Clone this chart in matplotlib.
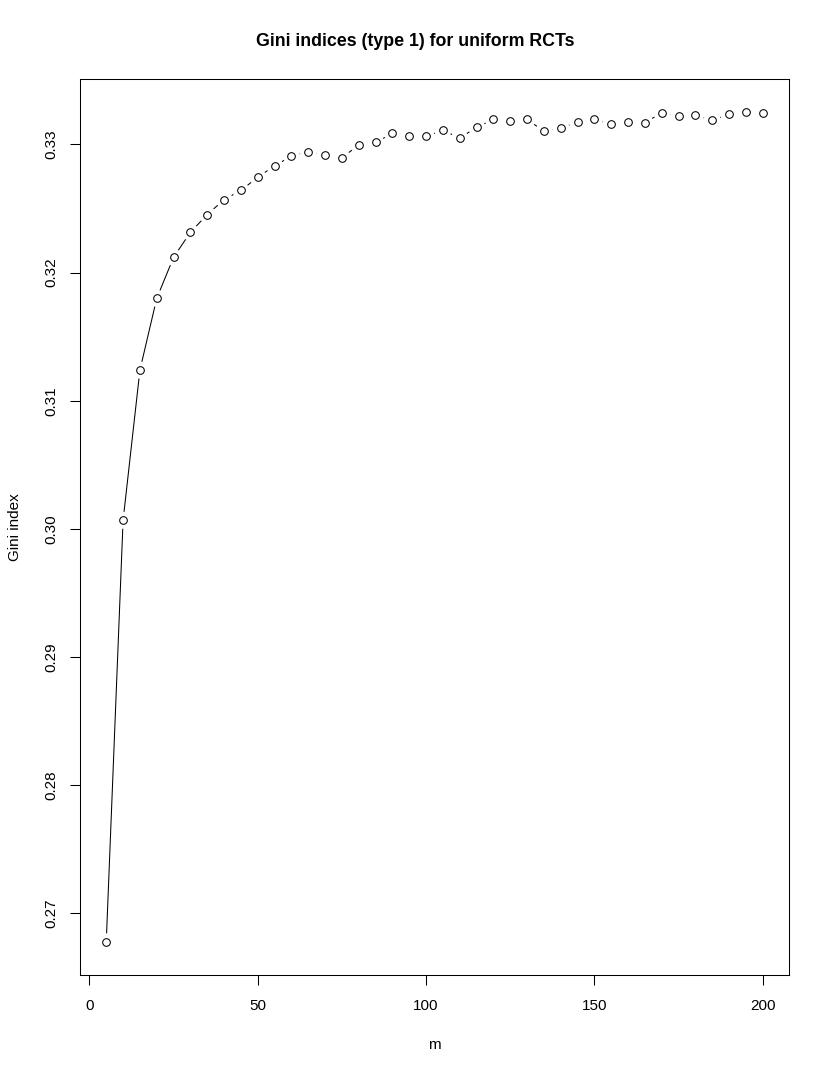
import numpy as np
import matplotlib.pyplot as plt

plt.rcParams['font.family'] = ['Liberation Sans', 'DejaVu Sans']

# --- DATA ---
m = list(range(5, 205, 5))
gini = [0.26779, 0.30068, 0.31240, 0.31800, 0.32120, 0.32315, 0.32453, 0.32570,
        0.32641, 0.32745, 0.32833, 0.32909, 0.32945, 0.32916, 0.32898, 0.32995,
        0.33016, 0.33086, 0.33065, 0.33063, 0.33112, 0.33049, 0.33135, 0.33195,
        0.33182, 0.33195, 0.33104, 0.33130, 0.33172, 0.33195, 0.33159, 0.33174,
        0.33169, 0.33248, 0.33221, 0.33227, 0.33190, 0.33234, 0.33252, 0.33248]
x_ticks = [0, 50, 100, 150, 200]
y_ticks = [0.27, 0.28, 0.29, 0.30, 0.31, 0.32, 0.33]

x = np.array(m, dtype=float)
y = np.array(gini)

# --- FIGURE (R base graphics look) ---
W, H = 830, 1075
fig = plt.figure(figsize=(W / 100, H / 100), dpi=100)
ax = fig.add_axes([80 / W, 1 - 975 / H, 709 / W, 896 / H])

# R-style 4% axis extension
def rlim(v):
    r = v.max() - v.min()
    return v.min() - 0.04 * r, v.max() + 0.04 * r

ax.set_xlim(*rlim(x))
ax.set_ylim(*rlim(y))

# type = "b": segments with gaps around the points
gap = 8.5  # pixels
pts = ax.transData.transform(np.column_stack([x, y]))
inv = ax.transData.inverted()
for p0, p1 in zip(pts[:-1], pts[1:]):
    d = p1 - p0
    L = np.hypot(*d)
    if L <= 2 * gap:
        continue
    u = d / L
    a = inv.transform(p0 + u * gap)
    b = inv.transform(p1 - u * gap)
    ax.plot([a[0], b[0]], [a[1], b[1]], color='black', lw=0.75,
            solid_capstyle='butt')

ax.plot(x, y, linestyle='none', marker='o', markersize=5.5,
        markerfacecolor='none', markeredgecolor='black', markeredgewidth=0.75)

# axes styling
for s in ax.spines.values():
    s.set_linewidth(0.75)
ax.set_xticks(x_ticks)
ax.set_yticks(y_ticks)
ax.set_yticklabels([f"{v:.2f}" for v in y_ticks], rotation=90, va='center')
ax.tick_params(direction='out', length=7.2, width=0.75, labelsize=11)
ax.tick_params(axis='x', pad=10)
ax.tick_params(axis='y', pad=8.2)

fig.text(0.5, 1 - 41 / H, "Gini indices (type 1) for uniform RCTs",
         ha='center', va='center', fontsize=12.8, fontweight='bold')
fig.text(434.5 / W, 1 - 1045 / H, "m", ha='center', va='center', fontsize=11)
fig.text(15 / W, 1 - 527 / H, "Gini index", ha='center', va='center',
         rotation=90, fontsize=11)

fig.savefig("out.png", dpi=100)
